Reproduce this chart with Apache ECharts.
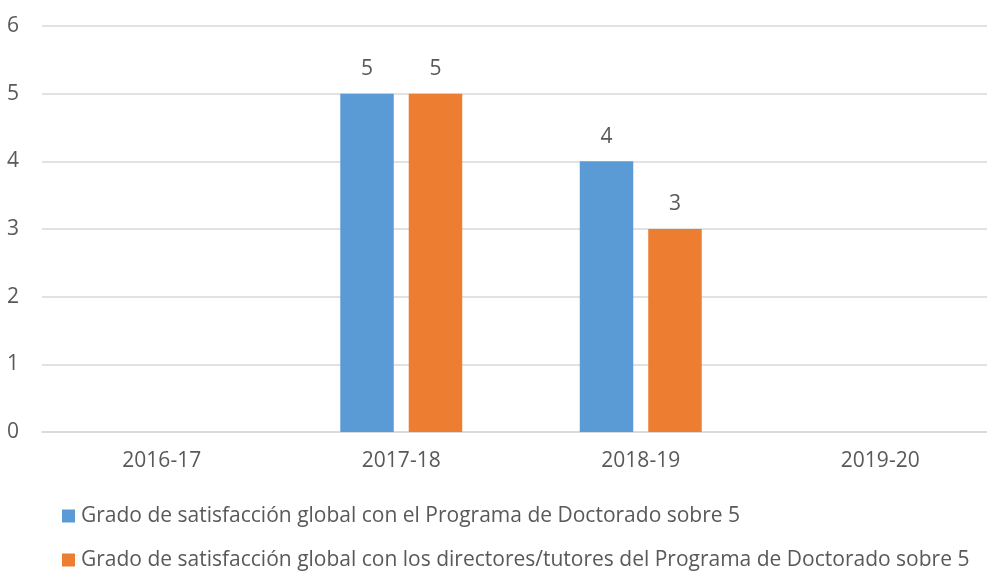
<!DOCTYPE html>
<html>
<head>
<meta charset="utf-8">
<script src="https://cdn.jsdelivr.net/npm/echarts@6/dist/echarts.min.js"></script>
<style>
html,body{margin:0;padding:0;background:#fff;}
#c{width:987px;height:571px;}
</style>
</head>
<body>
<div id="c"></div>
<script>
var categories = ['2016-17', '2017-18', '2018-19', '2019-20'];
var seriesNames = [
  'Grado de satisfacción global con el Programa de Doctorado sobre 5',
  'Grado de satisfacción global con los directores/tutores del Programa de Doctorado sobre 5'
];
var programaValues = [null, 5, 4, null];
var directoresValues = [null, 5, 3, null];
var yTicks = [0, 1, 2, 3, 4, 5, 6];

var FONT = '"Open Sans", sans-serif';
var FS = 21;
var TXT = '#595959';
var chart = echarts.init(document.getElementById('c'), null, {renderer: 'canvas'});

function legendAt(name, top) {
  return {
    orient: 'vertical',
    left: 62,
    top: top,
    padding: 0,
    itemWidth: 13,
    itemHeight: 13,
    icon: 'rect',
    textStyle: {color: TXT, fontFamily: FONT, fontSize: FS, lineHeight: 24, padding: [0, 0, 0, 1]},
    data: [name]
  };
}

chart.setOption({
  animation: false,
  backgroundColor: '#ffffff',
  grid: {left: 42, top: 26, width: 958, height: 406, containLabel: false, outerBoundsMode: 'none'},
  xAxis: {
    type: 'category',
    data: categories,
    axisLine: {lineStyle: {color: '#d9d9d9', width: 1.5}},
    axisTick: {show: false},
    axisLabel: {color: TXT, fontFamily: FONT, fontSize: FS, margin: 19}
  },
  yAxis: {
    type: 'value',
    min: yTicks[0],
    max: yTicks[yTicks.length - 1],
    interval: 1,
    axisLine: {show: false},
    axisTick: {show: false},
    splitLine: {lineStyle: {color: '#d9d9d9', width: 1.5}},
    axisLabel: {color: TXT, fontFamily: FONT, fontSize: FS, margin: 23, align: 'right'}
  },
  legend: [legendAt(seriesNames[0], 504), legendAt(seriesNames[1], 548)],
  series: [
    {
      name: seriesNames[0],
      type: 'bar',
      data: programaValues,
      barWidth: 53.5,
      barGap: '28%',
      itemStyle: {color: '#5B9BD5'},
      label: {show: true, position: 'top', distance: 14, color: TXT, fontFamily: FONT, fontSize: FS}
    },
    {
      name: seriesNames[1],
      type: 'bar',
      data: directoresValues,
      barWidth: 53.5,
      barGap: '28%',
      itemStyle: {color: '#ED7D31'},
      label: {show: true, position: 'top', distance: 14, color: TXT, fontFamily: FONT, fontSize: FS}
    }
  ]
});
</script>
</body>
</html>
